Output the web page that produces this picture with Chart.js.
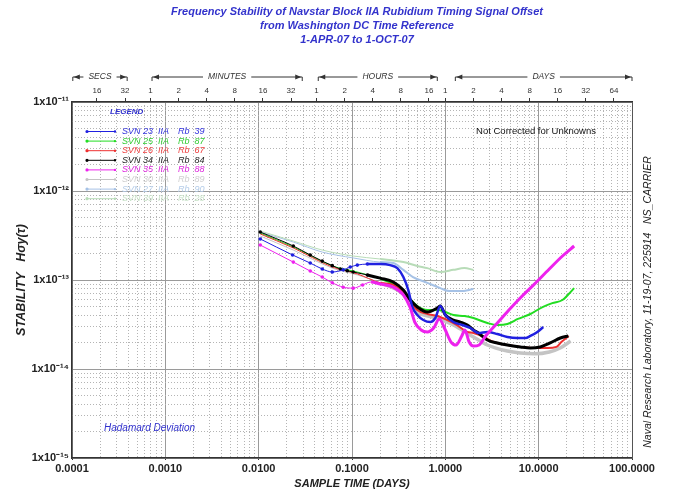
<!DOCTYPE html>
<html>
<head>
<meta charset="utf-8">
<script src="https://cdn.jsdelivr.net/npm/chart.js@4.4.0/dist/chart.umd.min.js"></script>
<style>
html, body { margin: 0; padding: 0; background: #fff; }
</style>
</head>
<body>
<canvas id="stabChart" width="683" height="493"></canvas>
<script>
// sample times (days) and Hadamard deviation
const tau23 = [0.0104, 0.0231, 0.0357, 0.048, 0.0615, 0.0807, 0.0958, 0.114, 0.146, 0.201, 0.257, 0.306, 0.355, 0.401, 0.443, 0.501, 0.581, 0.691, 0.781, 0.884, 1.0, 1.22, 1.52, 1.85, 2.26, 2.82, 3.61, 4.62, 5.91, 7.2, 8.15, 9.68, 11.2];
const hdev23 = [2.89e-13, 1.91e-13, 1.55e-13, 1.33e-13, 1.23e-13, 1.30e-13, 1.40e-13, 1.47e-13, 1.51e-13, 1.51e-13, 1.47e-13, 1.36e-13, 1.08e-13, 7.7e-14, 4.97e-14, 4.04e-14, 3.55e-14, 3.37e-14, 3.74e-14, 5.1e-14, 4.04e-14, 3.37e-14, 3.12e-14, 2.89e-14, 2.54e-14, 2.61e-14, 2.47e-14, 2.29e-14, 2.23e-14, 2.23e-14, 2.35e-14, 2.61e-14, 2.96e-14];

const tau25 = [0.0104, 0.0235, 0.0615, 0.114, 0.201, 0.277, 0.355, 0.422, 0.501, 0.641, 0.821, 1.0, 1.22, 1.6, 2.0, 2.82, 3.61, 4.62, 6.0, 8.15, 11, 14, 18, 21, 24];
const hdev25 = [3.37e-13, 2.35e-13, 1.44e-13, 1.23e-13, 1.03e-13, 9.0e-14, 7.5e-14, 6.1e-14, 5.1e-14, 4.6e-14, 4.6e-14, 4.37e-14, 4.04e-14, 3.94e-14, 3.74e-14, 3.29e-14, 3.12e-14, 3.2e-14, 3.65e-14, 4.15e-14, 4.97e-14, 5.5e-14, 5.96e-14, 6.96e-14, 8.1e-14];

const tau26 = [0.0104, 0.0235, 0.0615, 0.114, 0.201, 0.277, 0.355, 0.422, 0.501, 0.641, 0.821, 1.05, 1.28, 1.72, 2.0, 2.6, 3.3, 4.62, 6.37, 9.0, 12.5, 15.5, 17.5, 21];
const hdev26 = [3.29e-13, 2.29e-13, 1.40e-13, 1.17e-13, 9.3e-14, 8.8e-14, 7.3e-14, 5.8e-14, 4.6e-14, 4.15e-14, 3.94e-14, 3.55e-14, 3.2e-14, 2.61e-14, 2.54e-14, 2.29e-14, 2.01e-14, 1.86e-14, 1.77e-14, 1.72e-14, 1.72e-14, 1.77e-14, 2.01e-14, 2.35e-14];

const tau34 = [0.0104, 0.0235, 0.0357, 0.048, 0.0615, 0.075, 0.089, 0.103, 0.146, 0.201, 0.277, 0.355, 0.422, 0.501, 0.641, 0.821, 0.884, 1.0, 1.22, 1.45, 1.72, 2.0, 2.26, 2.82, 3.61, 4.62, 6.37, 8.15, 10.4, 13.3, 17.1, 20.8];
const hdev34 = [3.46e-13, 2.41e-13, 1.91e-13, 1.63e-13, 1.45e-13, 1.33e-13, 1.27e-13, 1.23e-13, 1.14e-13, 1.05e-13, 9.5e-14, 7.7e-14, 5.96e-14, 4.97e-14, 4.37e-14, 4.85e-14, 5.1e-14, 4.04e-14, 3.55e-14, 3.37e-14, 3.12e-14, 2.74e-14, 2.54e-14, 2.12e-14, 1.96e-14, 1.86e-14, 1.77e-14, 1.72e-14, 1.77e-14, 1.96e-14, 2.23e-14, 2.35e-14];

const tau35 = [0.0104, 0.0235, 0.0357, 0.048, 0.0615, 0.0806, 0.103, 0.13, 0.16, 0.201, 0.277, 0.355, 0.422, 0.47, 0.55, 0.641, 0.75, 0.86, 1.0, 1.15, 1.3, 1.5, 1.62, 1.8, 2.0, 2.3, 2.7, 3.61, 4.8, 6.5, 9, 13, 18, 24];
const hdev35 = [2.47e-13, 1.59e-13, 1.26e-13, 1.08e-13, 9.3e-14, 8.3e-14, 8.1e-14, 8.8e-14, 9.5e-14, 9.0e-14, 8.3e-14, 6.8e-14, 4.85e-14, 3.37e-14, 2.74e-14, 2.61e-14, 2.89e-14, 3.65e-14, 2.74e-14, 2.01e-14, 1.86e-14, 2.35e-14, 2.74e-14, 2.01e-14, 1.81e-14, 1.86e-14, 2.35e-14, 3.29e-14, 4.6e-14, 6.44e-14, 9.0e-14, 1.33e-13, 1.86e-13, 2.41e-13];

const tau30 = [0.0104, 0.0235, 0.0615, 0.114, 0.201, 0.355, 0.501, 0.821, 1.22, 2.0, 2.82, 4.62, 6.37, 9, 13, 17, 22];
const hdev30 = [3.12e-13, 2.17e-13, 1.36e-13, 1.14e-13, 9.3e-14, 6.96e-14, 4.37e-14, 3.74e-14, 3.12e-14, 2.29e-14, 1.86e-14, 1.59e-14, 1.51e-14, 1.48e-14, 1.55e-14, 1.72e-14, 2.06e-14];

const tau27 = [0.0104, 0.0235, 0.048, 0.103, 0.201, 0.277, 0.355, 0.45, 0.641, 0.884, 1.1, 1.45, 2.0];
const hdev27 = [3.46e-13, 2.67e-13, 2.06e-13, 1.77e-13, 1.59e-13, 1.55e-13, 1.30e-13, 1.08e-13, 9.3e-14, 8.1e-14, 7.5e-14, 7.5e-14, 7.9e-14];

const tau39 = [0.0104, 0.0235, 0.048, 0.103, 0.201, 0.355, 0.501, 0.641, 0.884, 1.22, 1.6, 2.0];
const hdev39 = [3.55e-13, 2.74e-13, 2.17e-13, 1.86e-13, 1.72e-13, 1.59e-13, 1.44e-13, 1.36e-13, 1.23e-13, 1.30e-13, 1.36e-13, 1.30e-13];

const legendSvn = ['SVN 23  IIA', 'SVN 25  IIA', 'SVN 26  IIA', 'SVN 34  IIA', 'SVN 35  IIA', 'SVN 30  IIA', 'SVN 27  IIA', 'SVN 39  IIA'];
const legendRb = ['Rb  39', 'Rb  87', 'Rb  67', 'Rb  84', 'Rb  88', 'Rb  89', 'Rb  90', 'Rb  28'];

const titleLines = [
  'Frequency Stability of Navstar Block IIA Rubidium Timing Signal Offset',
  'from Washington DC Time Reference',
  '1-APR-07 to 1-OCT-07'
];

const xTickValues = [1e-4, 1e-3, 1e-2, 1e-1, 1, 10, 100];
const xTickLabels = ['0.0001', '0.0010', '0.0100', '0.1000', '1.0000', '10.0000', '100.0000'];
const yTickValues = [1e-15, 1e-14, 1e-13, 1e-12, 1e-11];
const yTickLabels = ['1x10\u207B\u00B9\u2075', '1x10\u207B\u00B9\u2074', '1x10\u207B\u00B9\u00B3', '1x10\u207B\u00B9\u00B2', '1x10\u207B\u00B9\u00B9'];

// top axis: 16 s ... 64 days, in days
const topTickDays = [16/86400, 32/86400, 1/1440, 2/1440, 4/1440, 8/1440, 16/1440, 32/1440, 1/24, 2/24, 4/24, 8/24, 16/24, 1, 2, 4, 8, 16, 32, 64];
const topTickLabels = ['16', '32', '1', '2', '4', '8', '16', '32', '1', '2', '4', '8', '16', '1', '2', '4', '8', '16', '32', '64'];
const topGroupNames = ['SECS', 'MINUTES', 'HOURS', 'DAYS'];
const topGroupFrom = [1.02e-4, 7.2e-4, 0.0435, 1.28];
const topGroupTo = [3.9e-4, 0.0293, 0.82, 100];

const FONT = '"Liberation Sans", Arial, sans-serif';

function minorTicks(lo, hi) {
  const out = [];
  for (let e = Math.round(Math.log10(lo)); e < Math.round(Math.log10(hi)); e++) {
    for (let m = 2; m <= 9; m++) out.push({ value: m * Math.pow(10, e) });
  }
  return out;
}

function series(tau, hdev, color, order, marks, wide) {
  return {
    data: tau.map((t, i) => ({ x: t, y: hdev[i] })),
    borderColor: color,
    backgroundColor: color,
    borderWidth: 1,
    pointRadius: ctx => (marks && ctx.raw && ctx.raw.x < 0.15) ? 1.8 : 0,
    pointBorderWidth: 0,
    segment: { borderWidth: ctx => ctx.p0.parsed.x >= 0.14 ? wide : 1 },
    cubicInterpolationMode: 'monotone',
    xAxisID: 'x',
    yAxisID: 'y',
    order: order
  };
}

const datasets = [
  series(tau23, hdev23, '#2020e0', 2, true, 2.5),
  series(tau25, hdev25, '#22dd22', 5, false, 2),
  series(tau26, hdev26, '#ee3030', 4, false, 2),
  series(tau34, hdev34, '#000000', 3, true, 3),
  series(tau35, hdev35, '#ee22ee', 1, true, 3),
  series(tau30, hdev30, '#c4c4c4', 8, false, 3.5),
  series(tau27, hdev27, '#a6c2e6', 7, false, 2),
  series(tau39, hdev39, '#b8dcb8', 6, false, 2)
];
const legendTextColors = ['#3030dd', '#30cc30', '#ee4040', '#222222', '#dd22dd', '#cfcfcf', '#b4cce8', '#c8e2c8'];

const notes = {
  id: 'notes',
  afterDraw(chart) {
    const { ctx, chartArea } = chart;
    const top = chart.scales.xTop;
    const L = chartArea.left, T = chartArea.top;
    ctx.save();
    ctx.textBaseline = 'middle';

    // title
    ctx.fillStyle = '#3333cc';
    ctx.font = 'bold italic 11px ' + FONT;
    ctx.textAlign = 'center';
    titleLines.forEach((line, i) => ctx.fillText(line, 357, 12 + i * 14));

    // legend
    ctx.font = 'bold italic 8px ' + FONT;
    ctx.fillStyle = '#3030cc';
    ctx.textAlign = 'left';
    ctx.fillText('LEGEND', L + 38, T + 10);
    datasets.forEach((ds, i) => {
      const y = T + 29.5 + i * 9.6;
      ctx.strokeStyle = ds.borderColor;
      ctx.fillStyle = ds.borderColor;
      ctx.lineWidth = 1;
      ctx.beginPath();
      ctx.moveTo(L + 15, y);
      ctx.lineTo(L + 43, y);
      ctx.stroke();
      ctx.beginPath();
      ctx.arc(L + 15, y, 1.6, 0, Math.PI * 2);
      ctx.arc(L + 43, y, 1.2, 0, Math.PI * 2);
      ctx.fill();
      ctx.font = 'italic 9px ' + FONT;
      ctx.fillStyle = legendTextColors[i];
      ctx.fillText(legendSvn[i], L + 50, y);
      ctx.fillText(legendRb[i], L + 106, y);
    });

    // notes inside the plot
    ctx.fillStyle = '#111';
    ctx.font = '9.5px ' + FONT;
    ctx.textAlign = 'center';
    ctx.fillText('Not Corrected for Unknowns', L + 464, T + 29);
    ctx.fillStyle = '#3030cc';
    ctx.font = 'italic 10px ' + FONT;
    ctx.textAlign = 'left';
    ctx.fillText('Hadamard Deviation', L + 32, chartArea.bottom - 30);

    // unit groups above the top axis
    const gy = top.top + 30;
    ctx.strokeStyle = '#333';
    ctx.fillStyle = '#333';
    ctx.lineWidth = 1;
    ctx.font = 'italic 8.5px ' + FONT;
    ctx.textAlign = 'center';
    topGroupNames.forEach((name, i) => {
      const a = top.getPixelForValue(topGroupFrom[i]);
      const b = top.getPixelForValue(topGroupTo[i]);
      const mid = (a + b) / 2;
      const half = ctx.measureText(name).width / 2 + 5;
      ctx.beginPath();
      ctx.moveTo(a, gy + 4); ctx.lineTo(a, gy); ctx.lineTo(mid - half, gy);
      ctx.moveTo(mid + half, gy); ctx.lineTo(b, gy); ctx.lineTo(b, gy + 4);
      ctx.stroke();
      ctx.beginPath();
      ctx.moveTo(a + 1, gy); ctx.lineTo(a + 7, gy - 2.5); ctx.lineTo(a + 7, gy + 2.5); ctx.closePath();
      ctx.moveTo(b - 1, gy); ctx.lineTo(b - 7, gy - 2.5); ctx.lineTo(b - 7, gy + 2.5); ctx.closePath();
      ctx.fill();
      ctx.fillText(name, mid, gy);
    });

    // lab stamp on the right
    ctx.translate(chartArea.right + 16, chartArea.top + 200);
    ctx.rotate(-Math.PI / 2);
    ctx.font = 'italic 10.5px ' + FONT;
    ctx.fillStyle = '#222';
    ctx.textAlign = 'center';
    ctx.fillText('Naval Research Laboratory, 11-19-07, 225914   NS_CARRIER', 0, 0);
    ctx.restore();
  }
};

new Chart(document.getElementById('stabChart').getContext('2d'), {
  type: 'line',
  data: { datasets: datasets },
  options: {
    responsive: false,
    animation: false,
    layout: { padding: { left: 0, right: 51, top: 47, bottom: 0 } },
    plugins: {
      legend: { display: false },
      tooltip: { enabled: false },
      title: { display: false }
    },
    scales: {
      x: {
        type: 'logarithmic', position: 'bottom', min: 1e-4, max: 100,
        afterBuildTicks: ax => { ax.ticks = xTickValues.map(v => ({ value: v })); },
        afterFit: s => { s.height = 35; },
        ticks: {
          autoSkip: false, maxRotation: 0, padding: 2, color: '#222',
          font: { family: FONT, size: 11, weight: 'bold' },
          callback: (v, i) => xTickLabels[i]
        },
        grid: { color: '#9a9a9a', lineWidth: 1, tickLength: 2, tickColor: '#333' },
        border: { color: '#333', width: 1.5 },
        title: {
          display: true, text: 'SAMPLE TIME (DAYS)', color: '#222',
          font: { family: FONT, size: 11, weight: 'bold', style: 'italic' },
          padding: { top: 0, bottom: 2 }
        }
      },
      x2: {
        type: 'logarithmic', axis: 'x', position: 'bottom', min: 1e-4, max: 100,
        afterBuildTicks: ax => { ax.ticks = minorTicks(1e-4, 100); },
        ticks: { display: false },
        grid: { color: '#b4b4b4', lineWidth: 1, drawTicks: false },
        border: { display: false, dash: [1, 2] }
      },
      xTop: {
        type: 'logarithmic', axis: 'x', position: 'top', min: 1e-4, max: 100,
        afterBuildTicks: ax => { ax.ticks = topTickDays.map(v => ({ value: v })); },
        afterFit: s => { s.height = 55; },
        ticks: {
          autoSkip: false, maxRotation: 0, padding: 2, color: '#333',
          font: { family: FONT, size: 8 },
          callback: (v, i) => topTickLabels[i]
        },
        grid: { drawOnChartArea: false, tickLength: 4, tickColor: '#333' },
        border: { color: '#333', width: 1.5 }
      },
      y: {
        type: 'logarithmic', position: 'left', min: 1e-15, max: 1e-11,
        afterBuildTicks: ax => { ax.ticks = yTickValues.map(v => ({ value: v })); },
        afterFit: s => { s.width = 72; },
        ticks: {
          padding: 3, color: '#222',
          font: { family: FONT, size: 11, weight: 'bold' },
          callback: (v, i) => yTickLabels[i]
        },
        grid: { color: '#9a9a9a', lineWidth: 1, drawTicks: false },
        border: { color: '#333', width: 1.5 },
        title: {
          display: true, text: 'STABILITY   H\u03C3y(\u03C4)', color: '#222',
          font: { family: FONT, size: 12.5, weight: 'bold', style: 'italic' },
          padding: { top: 14, bottom: 0 }
        }
      },
      y2: {
        type: 'logarithmic', axis: 'y', position: 'right', min: 1e-15, max: 1e-11,
        afterBuildTicks: ax => { ax.ticks = minorTicks(1e-15, 1e-11); },
        ticks: { display: false },
        grid: { color: '#b4b4b4', lineWidth: 1, drawTicks: false },
        border: { color: '#555', width: 1, dash: [1, 2] }
      }
    }
  },
  plugins: [notes]
});
</script>
</body>
</html>
